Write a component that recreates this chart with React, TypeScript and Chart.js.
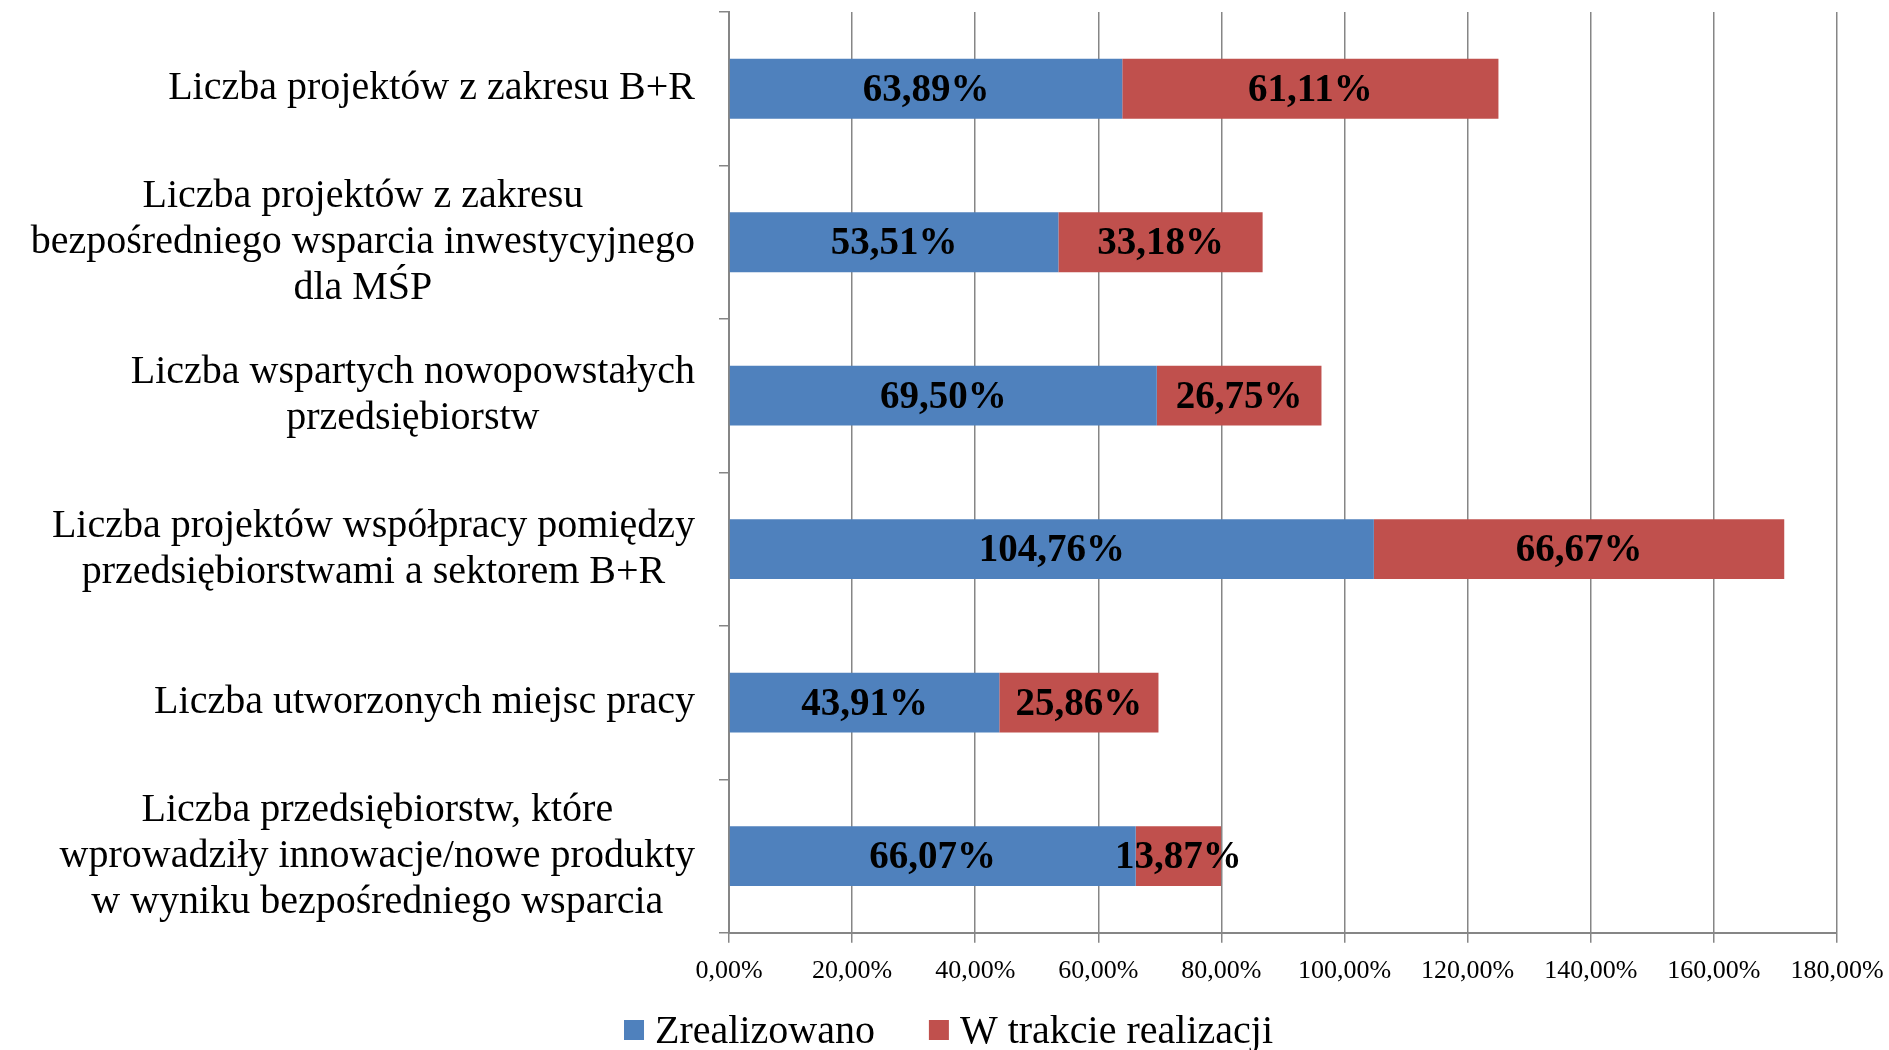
import React, { useEffect, useRef } from "react";
import { Chart, registerables } from "chart.js";

Chart.register(...registerables);

const categories: string[][] = [
  ["Liczba projektów z zakresu B+R"],
  ["Liczba projektów z zakresu", "bezpośredniego wsparcia inwestycyjnego", "dla MŚP"],
  ["Liczba wspartych nowopowstałych", "przedsiębiorstw"],
  ["Liczba projektów współpracy pomiędzy", "przedsiębiorstwami a sektorem B+R"],
  ["Liczba utworzonych miejsc pracy"],
  ["Liczba przedsiębiorstw, które", "wprowadziły innowacje/nowe produkty", "w wyniku bezpośredniego wsparcia"],
];

const zrealizowano: number[] = [63.89, 53.51, 69.5, 104.76, 43.91, 66.07];
const wTrakcie: number[] = [61.11, 33.18, 26.75, 66.67, 25.86, 13.87];

const seriesNames: string[] = ["Zrealizowano", "W trakcie realizacji"];
const seriesColors: string[] = ["#4F81BD", "#C0504D"];
const xMin = 0;
const xMax = 180;
const xStep = 20;

const SERIF = "'Liberation Serif', 'Times New Roman', serif";
const GRID = "#868686";

const fmt = (v: number) => v.toFixed(2).replace(".", ",") + "%";

const categoryLabelPlugin = {
  id: "categoryLabels",
  afterDraw(chart: any) {
    const ctx = chart.ctx;
    const y = chart.scales.y;
    const right = chart.chartArea.left - 34;
    const lh = 46;
    ctx.save();
    ctx.font = `40px ${SERIF}`;
    ctx.fillStyle = "#000";
    ctx.textBaseline = "middle";
    ctx.textAlign = "center";
    categories.forEach((lines, i) => {
      const cy = y.getPixelForValue(i);
      const w = Math.max(...lines.map((l) => ctx.measureText(l).width));
      const cx = right - w / 2;
      const top = cy - ((lines.length - 1) * lh) / 2;
      lines.forEach((l, j) => ctx.fillText(l, cx, top + j * lh));
    });
    ctx.restore();
  },
};

const dataLabelPlugin = {
  id: "barValues",
  afterDatasetsDraw(chart: any) {
    const ctx = chart.ctx;
    ctx.save();
    ctx.font = `bold 39px ${SERIF}`;
    ctx.fillStyle = "#000";
    ctx.textAlign = "center";
    ctx.textBaseline = "middle";
    chart.data.datasets.forEach((ds: any, di: number) => {
      const meta = chart.getDatasetMeta(di);
      meta.data.forEach((bar: any, i: number) => {
        const p = bar.getProps(["x", "y", "base"], true);
        ctx.fillText(fmt(ds.data[i]), (p.x + p.base) / 2, p.y + 2);
      });
    });
    ctx.restore();
  },
};

const legendPlugin = {
  id: "bottomLegend",
  afterDraw(chart: any) {
    const ctx = chart.ctx;
    const box = 20;
    const gapText = 11;
    const gapItem = 54;
    const cy = chart.height - 20;
    ctx.save();
    ctx.font = `40px ${SERIF}`;
    ctx.textBaseline = "middle";
    ctx.textAlign = "left";
    const items = chart.data.datasets.map((ds: any) => ({
      text: ds.label,
      color: ds.backgroundColor,
      w: ctx.measureText(ds.label).width,
    }));
    const total =
      items.reduce((s: number, it: any) => s + box + gapText + it.w, 0) + gapItem * (items.length - 1);
    let x = chart.width / 2 + 4 - total / 2;
    items.forEach((it: any) => {
      ctx.fillStyle = it.color;
      ctx.fillRect(x, cy - box / 2, box, box);
      ctx.fillStyle = "#000";
      ctx.fillText(it.text, x + box + gapText, cy + 2);
      x += box + gapText + it.w + gapItem;
    });
    ctx.restore();
  },
};

export default function App() {
  const ref = useRef<HTMLCanvasElement | null>(null);
  useEffect(() => {
    if (!ref.current) return;
    const chart = new Chart(ref.current, {
      type: "bar",
      data: {
        labels: categories.map((c) => c.join(" ")),
        datasets: [
          {
            label: seriesNames[0],
            data: zrealizowano,
            backgroundColor: seriesColors[0],
            borderWidth: 0,
            barPercentage: 0.78,
            categoryPercentage: 0.5,
          },
          {
            label: seriesNames[1],
            data: wTrakcie,
            backgroundColor: seriesColors[1],
            borderWidth: 0,
            barPercentage: 0.78,
            categoryPercentage: 0.5,
          },
        ],
      },
      options: {
        indexAxis: "y",
        responsive: false,
        devicePixelRatio: 1,
        animation: false,
        layout: { padding: { left: 0, top: 12, right: 0, bottom: 50 } },
        plugins: {
          legend: { display: false },
          tooltip: { enabled: false },
        },
        scales: {
          x: {
            stacked: true,
            min: xMin,
            max: xMax,
            afterFit: (scale: any) => {
              scale.paddingRight = 52;
            },
            ticks: {
              stepSize: xStep,
              callback: (v: any) => fmt(Number(v)),
              font: { family: SERIF, size: 26 },
              color: "#000",
              padding: 13,
              maxRotation: 0,
            },
            grid: { color: GRID, lineWidth: 1.5, tickLength: 10, drawTicks: true },
            border: { color: GRID, width: 2 },
          },
          y: {
            stacked: true,
            afterFit: (scale: any) => {
              scale.width = 729;
            },
            ticks: { display: false },
            grid: { drawOnChartArea: false, color: GRID, lineWidth: 1.5, tickLength: 10, offset: true },
            border: { color: GRID, width: 2 },
          },
        },
      },
      plugins: [categoryLabelPlugin, dataLabelPlugin, legendPlugin],
    } as any);
    return () => chart.destroy();
  }, []);
  return (
    <div style={{ position: "fixed", left: 0, top: 0, width: 1889, height: 1050, background: "#fff" }}>
      <canvas ref={ref} width={1889} height={1050} />
    </div>
  );
}
